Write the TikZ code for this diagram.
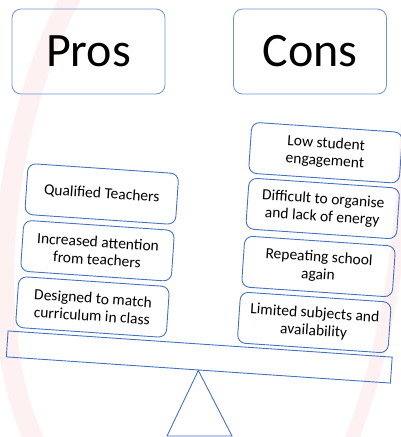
\documentclass[tikz,border=0pt]{standalone}
\usepackage{fontspec}
\setmainfont{Carlito}
\usepackage{tikz}
\usetikzlibrary{calc,positioning}
\definecolor{azulBorde}{RGB}{68,114,196}
\definecolor{azulClaro}{RGB}{112,148,214}
\definecolor{rosaMarca}{RGB}{253,241,241}
\tikzstyle{titlebox}=[draw=azulClaro, rounded corners=9pt,
                    line width=0.8pt, minimum width=153pt,
                    minimum height=85pt,
                    font=\fontsize{48}{56}\selectfont]
\tikzstyle{itembox}=[draw=azulBorde, rounded corners=8pt,
                    line width=0.9pt, minimum width=151pt,
                    minimum height=51pt, align=center,
                    rotate=-3.9, inner sep=2pt,
                    font=\fontsize{15.5}{17.5}\selectfont]
\tikzstyle{beam}=[draw=azulBorde, line width=0.9pt,
                    minimum width=385pt, minimum height=26pt,
                    rotate=-3.9, inner sep=0pt]

\begin{document}
\begin{tikzpicture}[x=1pt,y=-1pt]
    \useasboundingbox (0,0) rectangle (400,437);

        % faint mark behind the scale
        \draw [rosaMarca, line width=20pt] (76,-12) .. controls (5,110) and (-25,330) .. (40,452);
        \draw [rosaMarca, line width=14pt] (410,70) .. controls (404,250) and (387,350) .. (347,452);

        \draw (88.5,51.5) node(pros)[titlebox]{Pros};
        \draw (310,51.5) node(cons)[titlebox]{Cons};

        \foreach \i/\x/\y/\texto in {1/101.75/194/Qualified Teachers,
            2/97.5/250.75/Increased attention\\from teachers,
            3/92.5/307/Designed to match\\curriculum in class}
            \draw (\x,\y) node(p\i)[itembox]{\texto};

        \foreach \i/\x/\y/\texto in {1/325.5/152.75/Low student\\engagement,
            2/322.75/208.5/Difficult to organise\\and lack of energy,
            3/318.5/266.5/Repeating school\\again,
            4/314.25/322.5/Limited subjects and\\availability}
            \draw (\x,\y) node(c\i)[itembox]{\texto};

        \draw (199.25,357) node(tabla)[beam]{};

        \coordinate (baseL) at (167,436);
        \coordinate (baseR) at (232,436);
        \draw [azulBorde, line width=0.9pt] (tabla.south) -- (baseR) -- (baseL) -- cycle;

    \end{tikzpicture}
\end{document}
